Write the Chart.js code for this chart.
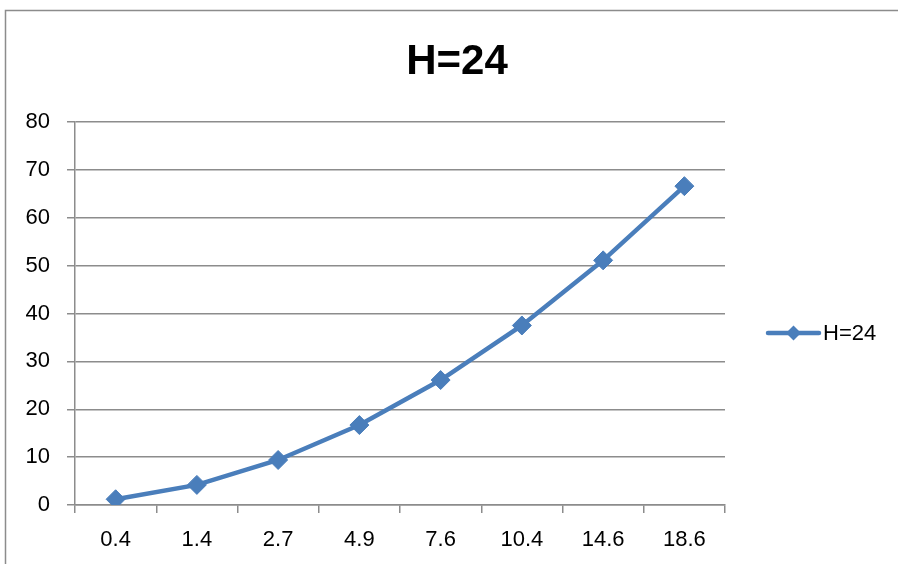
<!DOCTYPE html>
<html>
<head>
<meta charset="utf-8">
<title>H=24</title>
<script src="https://cdn.jsdelivr.net/npm/chart.js@4.4.1/dist/chart.umd.min.js"></script>
<style>
  html, body { margin: 0; padding: 0; background: #ffffff; }
  #wrap { width: 898px; height: 564px; position: relative; }
</style>
</head>
<body>
<div id="wrap"><canvas id="chart"></canvas></div>
<script>
// Series data
const chartTitle = 'H=24';
const seriesLabel = 'H=24';
const categories = ['0.4', '1.4', '2.7', '4.9', '7.6', '10.4', '14.6', '18.6'];
const values = [1.2, 4.2, 9.4, 16.7, 26.1, 37.5, 51.1, 66.6];
const yMin = 0;
const yMax = 80;
const yStep = 10;

const FONT = '"Liberation Sans", Arial, sans-serif';
const LINE_COLOR = '#4a7ebb';
const GRID_COLOR = '#8c8c8c';

// Outer frame, centred title and the side legend (line + diamond sample)
const decorations = {
  id: 'decorations',
  afterDraw(chart) {
    const ctx = chart.ctx;
    ctx.save();
    // frame: top and left edges
    ctx.strokeStyle = '#8c8c8c';
    ctx.lineWidth = 1.5;
    ctx.beginPath();
    ctx.moveTo(5.5, 564);
    ctx.lineTo(5.5, 10.5);
    ctx.lineTo(898, 10.5);
    ctx.stroke();

    // title
    ctx.fillStyle = '#000000';
    ctx.font = 'bold 42px ' + FONT;
    ctx.textAlign = 'center';
    ctx.textBaseline = 'middle';
    ctx.fillText(chartTitle, 457, 62);

    // legend
    const ds = chart.data.datasets[0];
    const ly = 333;
    ctx.strokeStyle = ds.borderColor;
    ctx.lineWidth = ds.borderWidth;
    ctx.lineCap = 'round';
    ctx.beginPath();
    ctx.moveTo(768, ly);
    ctx.lineTo(819, ly);
    ctx.stroke();
    ctx.fillStyle = ds.pointBackgroundColor;
    const r = 7.5;
    ctx.beginPath();
    ctx.moveTo(793.5, ly - r);
    ctx.lineTo(793.5 + r, ly);
    ctx.lineTo(793.5, ly + r);
    ctx.lineTo(793.5 - r, ly);
    ctx.closePath();
    ctx.fill();
    ctx.fillStyle = '#000000';
    ctx.font = '22px ' + FONT;
    ctx.textAlign = 'left';
    ctx.fillText(ds.label, 823, ly + 1);
    ctx.restore();
  }
};

new Chart(document.getElementById('chart'), {
  type: 'line',
  data: {
    labels: categories,
    datasets: [{
      label: seriesLabel,
      data: values,
      borderColor: LINE_COLOR,
      backgroundColor: LINE_COLOR,
      pointBackgroundColor: LINE_COLOR,
      pointBorderColor: LINE_COLOR,
      borderWidth: 4.5,
      pointStyle: 'rectRot',
      pointRadius: 9.5,
      pointBorderWidth: 1,
      tension: 0,
      fill: false
    }]
  },
  options: {
    responsive: true,
    maintainAspectRatio: false,
    animation: false,
    events: [],
    layout: { padding: { left: 16, right: 173, top: 122, bottom: 0 } },
    plugins: {
      legend: { display: false },
      title: { display: false },
      tooltip: { enabled: false }
    },
    scales: {
      x: {
        type: 'category',
        offset: true,
        grid: {
          offset: true,
          drawOnChartArea: false,
          drawTicks: true,
          tickLength: 8,
          color: GRID_COLOR,
          lineWidth: 1.5
        },
        border: { display: true, color: GRID_COLOR, width: 1.5 },
        ticks: {
          color: '#000000',
          font: { family: FONT, size: 22 },
          padding: 14,
          maxRotation: 0,
          autoSkip: false
        },
        afterFit(scale) { scale.height = 59; }
      },
      y: {
        min: yMin,
        max: yMax,
        grid: {
          color: GRID_COLOR,
          lineWidth: 1.5,
          drawTicks: true,
          tickLength: 8
        },
        border: { display: true, color: GRID_COLOR, width: 1.5 },
        ticks: {
          stepSize: yStep,
          color: '#000000',
          font: { family: FONT, size: 22 },
          padding: 17
        },
        afterFit(scale) { scale.width = 59; }
      }
    }
  },
  plugins: [decorations]
});
</script>
</body>
</html>
